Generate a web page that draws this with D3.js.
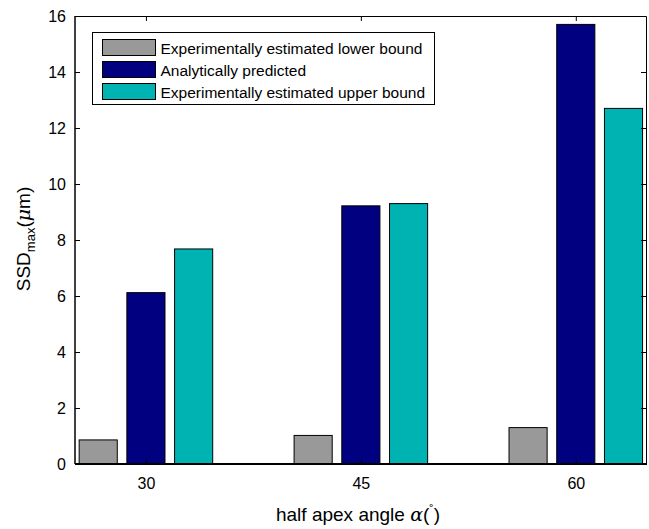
<!DOCTYPE html>
<html>
<head>
<meta charset="utf-8">
<script src="https://cdn.jsdelivr.net/npm/d3@7"></script>
<style>
  body { margin: 0; background: #fff; }
  svg { display: block; font-family: "Liberation Sans", Arial, Helvetica, sans-serif; }
</style>
</head>
<body>
<svg id="chart" width="649" height="529"></svg>
<script>
// Half apex angles (degrees) and SSD_max values (µm) per series
const angles = [30, 45, 60];
const lowerBound = [0.86, 1.02, 1.30];
const predicted = [6.12, 9.22, 15.70];
const upperBound = [7.68, 9.30, 12.70];
const seriesNames = [
  "Experimentally estimated lower bound",
  "Analytically predicted",
  "Experimentally estimated upper bound"
];
const seriesColors = ["#999999", "#000080", "#00b3b3"];
const yTicks = [0, 2, 4, 6, 8, 10, 12, 14, 16];

const series = [lowerBound, predicted, upperBound];

const svg = d3.select("#chart");
const margin = { left: 75, right: 3, top: 16, bottom: 65 };
const W = 649, H = 529;
const plotW = W - margin.left - margin.right;
const plotH = H - margin.top - margin.bottom;

const g = svg.append("g").attr("transform", `translate(${margin.left},${margin.top})`);

const x = d3.scaleLinear().domain([25.05, 64.9]).range([0, plotW]);
const y = d3.scaleLinear().domain([0, 16]).range([plotH, 0]);

// grouped bars: offset and width in angle units
const barStep = 3.33;
const barWidth = 2.66;

series.forEach((vals, si) => {
  g.selectAll(null)
    .data(angles.map((a, i) => ({ a, v: vals[i] })))
    .enter().append("rect")
    .attr("x", d => x(d.a + (si - 1) * barStep - barWidth / 2))
    .attr("width", d => x(d.a + barWidth / 2) - x(d.a - barWidth / 2))
    .attr("y", d => y(d.v))
    .attr("height", d => y(0) - y(d.v))
    .attr("fill", seriesColors[si])
    .attr("stroke", "#000")
    .attr("stroke-width", 1);
});

// axes with inward ticks, mirrored on top and right
const tickLen = 5;
const tickFont = 16;
const xAxis = d3.axisBottom(x).tickValues(angles).tickSize(-tickLen).tickPadding(14).tickFormat(d3.format("d"));
const xAxisTop = d3.axisTop(x).tickValues(angles).tickSize(-tickLen).tickFormat("");
const yAxis = d3.axisLeft(y).tickValues(yTicks).tickSize(-tickLen).tickPadding(9).tickFormat(d3.format("d"));
const yAxisRight = d3.axisRight(y).tickValues(yTicks).tickSize(-tickLen).tickFormat("");

function styleAxis(sel, w) {
  sel.attr("font-size", tickFont).attr("font-family", "'Liberation Sans', Arial, Helvetica, sans-serif");
  sel.select(".domain").attr("stroke", "#000").attr("stroke-width", w);
  sel.selectAll(".tick line").attr("stroke", "#000");
  sel.selectAll(".tick text").attr("fill", "#000");
}

g.append("g").call(xAxisTop).call(s => styleAxis(s, 1)).select(".domain").attr("d", `M0.5,0.5H${plotW + 0.5}`);
g.append("g").attr("transform", `translate(${plotW},0)`).call(yAxisRight).call(s => styleAxis(s, 1))
  .select(".domain").attr("d", `M0.5,0.5V${plotH + 0.5}`);
g.append("g").attr("transform", `translate(0,${plotH})`).call(xAxis).call(s => styleAxis(s, 2))
  .select(".domain").attr("d", `M0,0H${plotW + 1}`);
g.append("g").call(yAxis).call(s => styleAxis(s, 1.5))
  .select(".domain").attr("d", `M0,0V${plotH}`);

// axis titles
svg.append("text")
  .attr("x", 358)
  .attr("y", 521)
  .attr("text-anchor", "middle")
  .attr("font-size", 19)
  .attr("fill", "#000")
  .html('half apex angle <tspan font-family="DejaVu Serif" font-style="italic">α</tspan>(<tspan dy="-7" font-size="13">˚</tspan><tspan dy="7">)</tspan>');

svg.append("text")
  .attr("transform", `translate(30,${margin.top + plotH / 2 - 1}) rotate(-90)`)
  .attr("text-anchor", "middle")
  .attr("font-size", 19)
  .attr("fill", "#000")
  .html('SSD<tspan dy="5" font-size="13">max</tspan><tspan dy="-5">(</tspan><tspan font-family="DejaVu Serif" font-style="italic">μ</tspan>m)');

// legend
const legend = svg.append("g").attr("transform", "translate(92.5,32.5)");
legend.append("rect").attr("width", 342).attr("height", 72)
  .attr("fill", "#fff").attr("stroke", "#000").attr("stroke-width", 1);
seriesNames.forEach((name, i) => {
  const row = legend.append("g").attr("transform", `translate(10,${7 + i * 22})`);
  row.append("rect").attr("width", 53).attr("height", 16)
    .attr("fill", seriesColors[i]).attr("stroke", "#000");
  row.append("text").attr("x", 58).attr("y", 14)
    .attr("font-size", 15.5).attr("fill", "#000").text(name);
});
</script>
</body>
</html>
